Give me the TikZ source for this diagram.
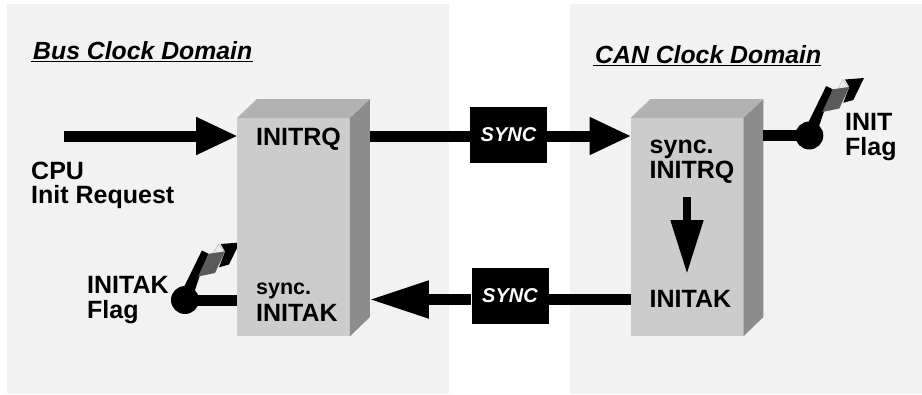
\documentclass[tikz,border=0pt]{standalone}
\usepackage{fontspec}
\setmainfont{Liberation Sans}
\usetikzlibrary{arrows.meta}
\definecolor{panelgray}{HTML}{F2F2F2}
\definecolor{frontgray}{HTML}{CCCCCC}
\definecolor{topgray}{HTML}{B2B2B2}
\definecolor{sidegray}{HTML}{8C8C8C}
\definecolor{leafgray}{HTML}{5A5A5A}
\tikzset{
  panel/.style={fill=panelgray,minimum height=390pt,anchor=north west},
  regbox/.style={fill=frontgray,minimum width=112.5pt,minimum height=218pt,anchor=north west},
  syncbox/.style={fill=black,text=white,minimum width=77pt,minimum height=56pt,
    font=\fontsize{20}{20}\selectfont\bfseries\itshape},
  label/.style={inner sep=0pt,anchor=base west,align=left,
    font=\fontsize{25}{24.5}\selectfont\bfseries},
  title/.style={inner sep=0pt,anchor=base west,text depth=2pt,
    font=\fontsize{24.8}{24.8}\selectfont\bfseries\itshape},
  wire/.style={line width=11pt},
  flow/.style={wire,shorten >=-1pt,-{Triangle[length=42pt,width=35pt]}},
  flagswitch/.pic={
    \fill[gray!15,draw=gray!60,line width=.4pt] (33.5,-56) -- (39.5,-48) -- (28.5,-46.7) -- cycle;
    \fill[black] (-1,-13) -- (16.9,-49.5) -- (23.5,-46.2) -- (14,-22) -- (10,-10) -- cycle;
    \fill[black] (35.7,-56) -- (54.7,-57.5) -- (44,-35.5) -- (34,-32.7) -- (40,-48.5) -- cycle;
    \fill[leafgray] (23.5,-46.2) -- (40,-48.5) -- (30,-27) -- (13,-23.5) -- cycle;
    \node[circle,fill=black,inner sep=0pt,minimum size=28pt] (-dot) at (0,0) {};
  }
}
\begin{document}
\begin{tikzpicture}[x=1pt,y=-1pt]
  \useasboundingbox (0,0) rectangle (922,394);

  \node[panel,minimum width=442pt] (buspanel) at (7,3.5) {};
  \node[panel,minimum width=352pt] (canpanel) at (570,3.5) {};

  \pic (bus) at (185,300) {flagswitch};
  \pic (can) at (809.3,135.5) {flagswitch};

  \node[regbox] (busbox) at (237,118) {};
  \node[regbox] (canbox) at (630.5,118) {};
  \foreach \name in {busbox,canbox} {
    \fill[topgray] (\name.north west) -- ++(20,-19) -- ++(112.5,0) -- (\name.north east) -- cycle;
    \fill[sidegray] (\name.north east) -- ++(20,-19) -- ++(0,218) -- (\name.south east) -- cycle;
    \coordinate (\name-side) at ([xshift=20pt]\name.east);
  }

  \node[syncbox] (synctop) at (508.5,135) {SYNC};
  \node[syncbox] (syncbot) at (510,296) {SYNC};

  \coordinate (cpu) at (63.5,136);
  \coordinate (ackline) at (0,299.5);
  \coordinate (stepstart) at (687,197);
  \coordinate (stepend) at (687,273);

  \draw[flow] (cpu) -- (cpu -| busbox.west);
  \draw[wire] (cpu -| busbox-side) -- (cpu -| synctop.west);
  \draw[flow] (cpu -| synctop.east) -- (cpu -| canbox.west);
  \draw[wire] (ackline -| canbox.west) -- (ackline -| syncbot.east);
  \draw[wire,shorten >=-1pt,-{Triangle[length=60pt,width=35pt]}] (ackline -| syncbot.west) -- (ackline -| busbox-side);
  \draw[wire] (busbox.west |- bus-dot) -- (bus-dot.center);
  \draw[wire] (canbox-side |- can-dot) -- (can-dot.center);
  \draw[line width=8pt,shorten >=-1pt,-{Triangle[length=54pt,width=31pt]}] (stepstart) -- (stepend);

  \node[title] (bustitle) at (33,59.3) {Bus Clock Domain};
  \node[title] (cantitle) at (595,63.3) {CAN Clock Domain};
  \draw[line width=1.4pt] ([xshift=-2pt]bustitle.south west) -- (bustitle.south east);
  \draw[line width=1.4pt] ([xshift=-2pt]cantitle.south west) -- (cantitle.south east);

  \node[label] (busreq) at (256,145.7) {INITRQ};
  \node[label] (cpureq) at (31,203.7) {CPU\\Init Request};
  \node[label] (ackflag) at (87,318) {INITAK\\Flag};
  \node[label] (busack) at (256,321) {{\fontsize{21.5}{21.5}\selectfont sync.}\\[2pt]INITAK};
  \node[label] (canreq) at (649.5,178.3) {sync.\\INITRQ};
  \node[label] (canack) at (649.5,307) {INITAK};
  \node[label] (initflag) at (845,155) {INIT\\Flag};
\end{tikzpicture}
\end{document}
